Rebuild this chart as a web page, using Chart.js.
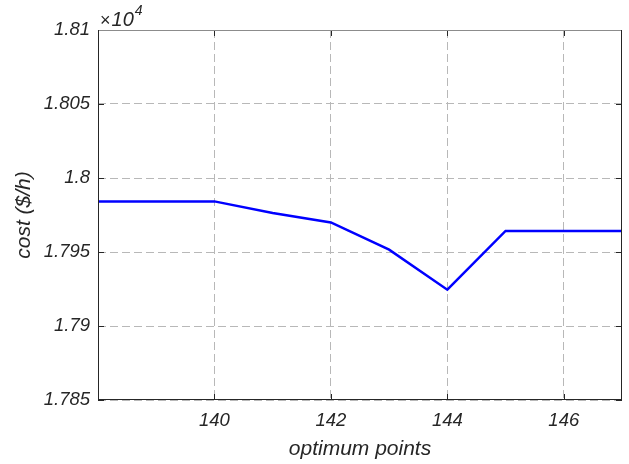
<!DOCTYPE html>
<html>
<head>
<meta charset="utf-8">
<script src="https://cdn.jsdelivr.net/npm/chart.js@4.4.0/dist/chart.umd.min.js"></script>
<style>
  html, body { margin: 0; padding: 0; background: #fff; }
  #wrap { width: 629px; height: 464px; }
</style>
</head>
<body>
<div id="wrap"><canvas id="costChart"></canvas></div>
<script>
// datos (coste en $/h)
const points = [138, 139, 140, 141, 142, 143, 144, 145, 146, 147];
const cost = [17984.2, 17984.2, 17984.2, 17976.4, 17970.0, 17951.6, 17924.5, 17964.2, 17964.2, 17964.2];
const xTicks = [140, 142, 144, 146];
const yTicks = [17850, 17900, 17950, 18000, 18050, 18100];

const txt = '#262626';
const fontFam = '"Liberation Sans", Arial, sans-serif';

// marco negro, marcas interiores y el multiplicador x10^4
const framePlugin = {
    id: 'frame',
    afterDraw(chart) {
        const ctx = chart.ctx;
        const a = chart.chartArea;
        const xs = chart.scales.x;
        const ys = chart.scales.y;
        ctx.save();
        ctx.strokeStyle = txt;
        ctx.lineWidth = 1;
        ctx.strokeRect(a.left + 0.5, a.top + 0.5, a.right - a.left - 1, a.bottom - a.top - 1);
        ctx.beginPath();
        xTicks.forEach(function (v) {
            const px = Math.round(xs.getPixelForValue(v)) + 0.5;
            ctx.moveTo(px, a.bottom); ctx.lineTo(px, a.bottom - 6);
            ctx.moveTo(px, a.top); ctx.lineTo(px, a.top + 6);
        });
        yTicks.forEach(function (v) {
            const py = Math.round(ys.getPixelForValue(v)) + 0.5;
            ctx.moveTo(a.left, py); ctx.lineTo(a.left + 6, py);
            ctx.moveTo(a.right, py); ctx.lineTo(a.right - 6, py);
        });
        ctx.stroke();
        // el borde superior se ve gris en el original
        ctx.strokeStyle = '#8c8c8c';
        ctx.beginPath();
        ctx.moveTo(a.left + 1, a.top + 0.5);
        ctx.lineTo(a.right - 1, a.top + 0.5);
        ctx.stroke();
        ctx.fillStyle = txt;
        ctx.textBaseline = 'alphabetic';
        const x0 = a.left + 2;
        ctx.font = '18px ' + fontFam;
        ctx.fillText('\u00d7', x0, a.top - 4);
        const wx = ctx.measureText('\u00d7').width;
        ctx.font = 'italic 20px ' + fontFam;
        ctx.fillText('10', x0 + wx + 1, a.top - 4);
        const w = ctx.measureText('10').width;
        ctx.font = 'italic 14px ' + fontFam;
        ctx.fillText('4', x0 + wx + w + 2, a.top - 15);
        ctx.restore();
    }
};

const ctx = document.getElementById('costChart').getContext('2d');
const costChart = new Chart(ctx, {
    type: 'line',
    data: {
        datasets: [{
            data: points.map(function (p, i) { return { x: p, y: cost[i] }; }),
            borderColor: '#0000ff',
            borderWidth: 2.5,
            pointRadius: 0,
            fill: false,
            tension: 0
        }]
    },
    options: {
        responsive: true,
        maintainAspectRatio: false,
        animation: false,
        layout: { padding: { top: 30, right: 7, left: 0, bottom: 0 } },
        plugins: {
            legend: { display: false },
            tooltip: { enabled: false }
        },
        scales: {
            x: {
                type: 'linear',
                min: 138,
                max: 147,
                afterBuildTicks: function (s) { s.ticks = xTicks.map(function (v) { return { value: v }; }); },
                afterFit: function (s) { s.height = 64; },
                grid: { color: '#b8b8b8', drawTicks: false },
                border: { display: false, dash: [8, 4] },
                ticks: {
                    padding: 10,
                    maxRotation: 0,
                    color: txt,
                    font: { family: fontFam, size: 18.5, style: 'italic' }
                },
                title: {
                    display: true,
                    text: 'optimum points',
                    color: txt,
                    padding: { top: 0, bottom: 2 },
                    font: { family: fontFam, size: 21, style: 'italic' }
                }
            },
            y: {
                type: 'linear',
                min: 17850,
                max: 18100,
                afterBuildTicks: function (s) { s.ticks = yTicks.map(function (v) { return { value: v }; }); },
                afterFit: function (s) { s.width = 98; },
                grid: { color: '#b8b8b8', drawTicks: false },
                border: { display: false, dash: [8, 4] },
                ticks: {
                    padding: 8,
                    color: txt,
                    font: { family: fontFam, size: 18.5, style: 'italic' },
                    callback: function (v) { return String(+(v / 1e4).toFixed(4)); }
                },
                title: {
                    display: true,
                    text: 'cost ($/h)',
                    color: txt,
                    padding: { top: 12, bottom: 0 },
                    font: { family: fontFam, size: 21, style: 'italic' }
                }
            }
        }
    },
    plugins: [framePlugin]
});
</script>
</body>
</html>
